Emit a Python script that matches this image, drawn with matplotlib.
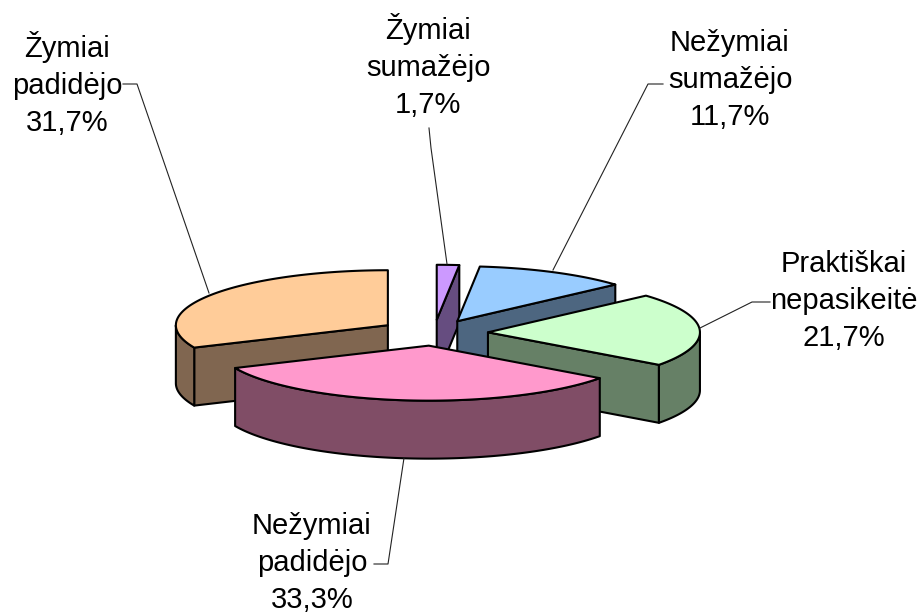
import numpy as np
import matplotlib
matplotlib.use('Agg')
import matplotlib.pyplot as plt
from matplotlib.patches import Polygon

plt.rcParams['font.family'] = ['Liberation Sans', 'DejaVu Sans']

# Slices clockwise from 12 o'clock
labels = ['Žymiai\nsumažėjo\n1,7%', 'Nežymiai\nsumažėjo\n11,7%',
          'Praktiškai\nnepasikeitė\n21,7%', 'Nežymiai\npadidėjo\n33,3%',
          'Žymiai\npadidėjo\n31,7%']
values = [1.7, 11.7, 21.7, 33.3, 31.7]
top_colors = ['#CC99FF', '#99CCFF', '#CCFFCC', '#FF99CC', '#FFCC99']
wall_colors = ['#664D80', '#4D6680', '#668066', '#804D66', '#806650']
explode = [51, 51, 54, 49, 55]

label_pos = [(428, 66), (730, 80), (844, 301), (312, 563), (67, 84)]
leaders = [
    [(429, 128), (431, 148), (447, 264)],
    [(663, 84), (648, 84), (553, 270)],
    [(770, 302), (752, 302), (700, 328)],
    [(374, 564), (388, 564), (404, 458)],
    [(123, 84), (137, 84), (209, 293)],
]

# Pie geometry in pixels
cx, cy = 434, 333
rx, ry = 212, 55
depth = 58


def rim(apex, a, b):
    """Points of the ellipse arc between two clockwise angles (degrees from north)"""
    t = np.radians(np.linspace(a, b, max(int(abs(b - a)) + 2, 2)))
    return np.column_stack([apex[0] + rx*np.sin(t), apex[1] - ry*np.cos(t)])


fig = plt.figure(figsize=(9.23, 6.13), dpi=100)
ax = fig.add_axes([0, 0, 1, 1])
ax.set_xlim(0, 923)
ax.set_ylim(613, 0)
ax.axis('off')

edges = np.cumsum([0] + values) / sum(values) * 360
mids = (edges[:-1] + edges[1:]) / 2
apexes = [(cx + e*np.sin(np.radians(m)), cy - e*ry/rx*np.cos(np.radians(m)))
          for e, m in zip(explode, mids)]

# Back slices first
for i in np.argsort([p[1] for p in apexes]):
    a, b = edges[i], edges[i+1]
    apex = np.array(apexes[i])
    drop = np.array([0, depth])
    style = dict(edgecolor='k', linewidth=1.5, joinstyle='round')

    # cut faces that look toward the viewer
    for ang, visible in ((a, 180 < a < 360), (b, 0 < b < 180)):
        if visible:
            p = rim(apex, ang, ang)[0]
            ax.add_patch(Polygon([apex, p, p + drop, apex + drop],
                                 facecolor=wall_colors[i], **style))

    # outer wall, front half only
    lo, hi = max(a, 90), min(b, 270)
    if lo < hi:
        arc = rim(apex, lo, hi)
        ax.add_patch(Polygon(np.vstack([arc, arc[::-1] + drop]),
                             facecolor=wall_colors[i], **style))

    ax.add_patch(Polygon(np.vstack([apex, rim(apex, a, b)]),
                         facecolor=top_colors[i], **style))

for line in leaders:
    xs, ys = zip(*line)
    ax.plot(xs, ys, color='#222222', linewidth=0.8)

for text, (x, y) in zip(labels, label_pos):
    ax.text(x, y, text, ha='center', va='center', fontsize=21, color='k',
            linespacing=1.4)

fig.savefig('out.png', dpi=100)
